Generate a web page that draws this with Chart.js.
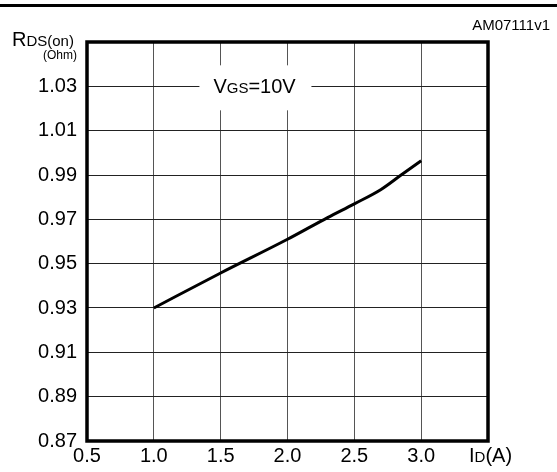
<!DOCTYPE html>
<html>
<head>
<meta charset="utf-8">
<script src="https://cdn.jsdelivr.net/npm/chart.js@4.4.1/dist/chart.umd.min.js"></script>
<style>
  html, body { margin: 0; padding: 0; background: #fff; }
  #wrap { width: 557px; height: 472px; position: relative; }
</style>
</head>
<body>
<div id="wrap"><canvas id="rdsChart"></canvas></div>
<script>
// RDS(on) vs ID curve
const currentA = [1.0, 1.5, 2.0, 2.3, 2.5, 2.7, 2.85, 3.0];
const rdsOhm = [0.930, 0.9458, 0.961, 0.9708, 0.977, 0.9835, 0.990, 0.9964];

const xTicks = [0.5, 1.0, 1.5, 2.0, 2.5, 3.0, 3.5];
const yTicks = [0.87, 0.89, 0.91, 0.93, 0.95, 0.97, 0.99, 1.01, 1.03, 1.05];

const FONT = '"Liberation Sans", Arial, Helvetica, sans-serif';

// texts, frame and the VGS note
const annotations = {
    id: 'annotations',
    afterDraw(chart) {
        const ctx = chart.ctx;
        const area = chart.chartArea;
        const xs = chart.scales.x, ys = chart.scales.y;
        ctx.save();

        // page rule at the top
        ctx.fillStyle = '#000';
        ctx.fillRect(0, 4, 557, 3);

        // VGS=10V label with white box over the grid
        const cx = xs.getPixelForValue(1.76);
        const cy = ys.getPixelForValue(1.03);
        ctx.fillStyle = '#fff';
        ctx.fillRect(cx - 56, cy - 21, 112, 45);
        ctx.fillStyle = '#000';
        ctx.textBaseline = 'alphabetic';
        ctx.textAlign = 'left';
        let x = cx - 42;
        const base = cy + 7;
        ctx.font = '20px ' + FONT;
        ctx.fillText('V', x, base); x += ctx.measureText('V').width;
        ctx.font = '15px ' + FONT;
        ctx.fillText('GS', x, base); x += ctx.measureText('GS').width;
        ctx.font = '20px ' + FONT;
        ctx.fillText('=10V', x, base);

        // thick frame
        ctx.lineWidth = 3.5;
        ctx.strokeStyle = '#000';
        ctx.strokeRect(area.left, area.top, area.right - area.left, area.bottom - area.top);

        // y axis title
        ctx.textAlign = 'left';
        x = 12;
        ctx.font = '20px ' + FONT;
        ctx.fillText('R', x, 46); x += ctx.measureText('R').width;
        ctx.font = '15px ' + FONT;
        ctx.fillText('DS(on)', x, 46);
        ctx.textAlign = 'right';
        ctx.font = '12px ' + FONT;
        ctx.fillText('(Ohm)', 77, 59);

        // x axis title
        ctx.textAlign = 'left';
        x = 469;
        const xb = 462;
        ctx.font = '20px ' + FONT;
        ctx.fillText('I', x, xb); x += ctx.measureText('I').width;
        ctx.font = '15px ' + FONT;
        ctx.fillText('D', x, xb); x += ctx.measureText('D').width;
        ctx.font = '20px ' + FONT;
        ctx.fillText('(A)', x, xb);

        // figure code
        ctx.textAlign = 'right';
        ctx.font = '15px ' + FONT;
        ctx.fillText('AM07111v1', 550, 30);

        ctx.restore();
    }
};

new Chart(document.getElementById('rdsChart'), {
    type: 'line',
    data: {
        labels: currentA,
        datasets: [{
            data: currentA.map((v, i) => ({ x: v, y: rdsOhm[i] })),
            borderColor: '#000',
            borderWidth: 3,
            pointRadius: 0,
            fill: false,
            cubicInterpolationMode: 'monotone'
        }]
    },
    options: {
        responsive: true,
        maintainAspectRatio: false,
        animation: false,
        layout: { padding: { top: 42, right: 69, left: 0, bottom: 0 } },
        plugins: { legend: { display: false }, tooltip: { enabled: false } },
        scales: {
            x: {
                type: 'linear',
                min: 0.5,
                max: 3.5,
                afterFit(scale) { scale.height = 31; },
                afterBuildTicks(scale) { scale.ticks = xTicks.map(v => ({ value: v })); },
                grid: { color: '#555', lineWidth: 1, drawTicks: false },
                border: { display: false },
                ticks: {
                    color: '#000',
                    padding: 3,
                    font: { family: FONT, size: 20 },
                    callback: v => (v === 3.5 ? '' : v.toFixed(1))
                }
            },
            y: {
                min: 0.87,
                max: 1.05,
                afterFit(scale) { scale.width = 87; },
                afterBuildTicks(scale) { scale.ticks = yTicks.map(v => ({ value: v })); },
                grid: { color: '#222', lineWidth: 1, drawTicks: false },
                border: { display: false },
                ticks: {
                    color: '#000',
                    padding: 10,
                    font: { family: FONT, size: 20 },
                    callback: v => (Math.abs(v - 1.05) < 1e-9 ? '' : v.toFixed(2))
                }
            }
        }
    },
    plugins: [annotations]
});
</script>
</body>
</html>
